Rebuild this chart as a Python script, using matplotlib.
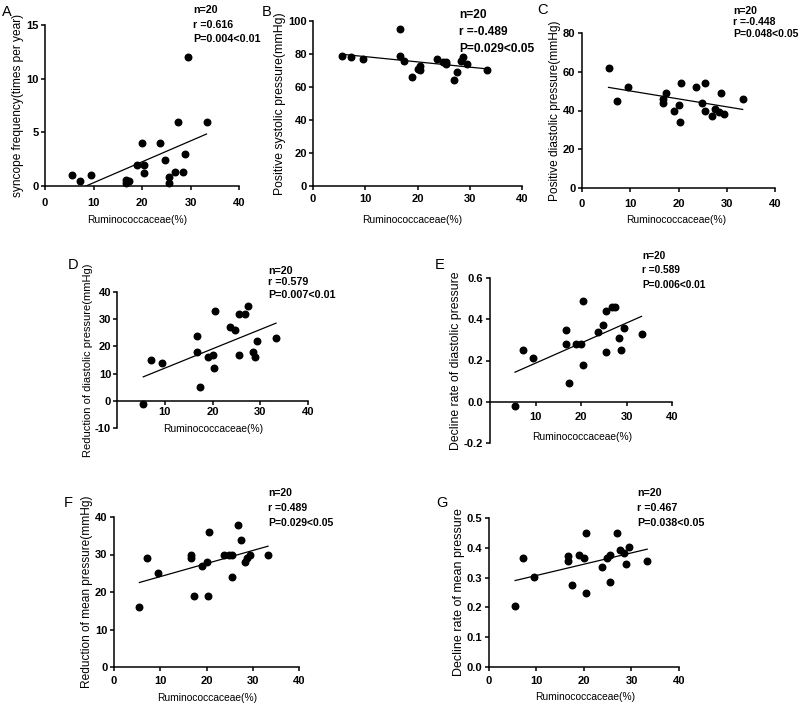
import numpy as np
import matplotlib
matplotlib.use('Agg')
import matplotlib.pyplot as plt
from matplotlib import font_manager
from matplotlib.ticker import FormatStrFormatter

W, H = 800, 706

# Ruminococcaceae abundance (%), one value per patient (same x for every panel)
rumino = [5.5, 7.2, 9.5, 16.7, 16.7, 17.4, 19.0, 20.0, 20.4, 20.5,
          23.7, 24.8, 25.5, 25.5, 26.9, 27.5, 28.4, 28.8, 29.4, 33.3]

syncope_freq = [1.0, 0.5, 1.0, 0.6, 0.3, 0.5, 2.0, 4.0, 1.2, 2.0,
                4.0, 2.4, 0.8, 0.3, 1.3, 6.0, 1.3, 3.0, 12.0, 6.0]
pos_systolic = [79, 78, 77, 95, 79, 76, 66, 71, 73, 70,
                77, 75, 75, 74, 64, 69, 76, 78, 74, 70]
pos_diastolic = [62, 45, 52, 46, 44, 49, 40, 43, 34, 54,
                 52, 44, 54, 40, 37, 41, 39, 49, 38, 46]
red_diastolic = [-1, 15, 14, 24, 18, 5, 16, 17, 12, 33,
                 27, 26, 32, 17, 32, 35, 18, 16, 22, 23]
decl_diastolic = [-0.02, 0.25, 0.21, 0.35, 0.28, 0.09, 0.28, 0.28, 0.18, 0.49,
                  0.34, 0.37, 0.44, 0.24, 0.46, 0.46, 0.31, 0.25, 0.36, 0.33]
red_mean = [16, 29, 25, 30, 29, 19, 27, 28, 19, 36,
            30, 30, 30, 24, 38, 34, 28, 29, 30, 30]
decl_mean = [0.204, 0.365, 0.303, 0.371, 0.356, 0.274, 0.375, 0.367, 0.248, 0.448,
             0.334, 0.367, 0.375, 0.285, 0.448, 0.394, 0.383, 0.346, 0.402, 0.357]

stats_A = ['n=20', 'r =0.616', 'P=0.004<0.01']
stats_B = ['n=20', 'r =-0.489', 'P=0.029<0.05']
stats_C = ['n=20', 'r =-0.448', 'P=0.048<0.05']
stats_D = ['n=20', 'r =0.579', 'P=0.007<0.01']
stats_E = ['n=20', 'r =0.589', 'P=0.006<0.01']
stats_F = ['n=20', 'r =0.489', 'P=0.029<0.05']
stats_G = ['n=20', 'r =0.467', 'P=0.038<0.05']

xlabel = 'Ruminococcaceae(%)'

plt.rcParams['font.family'] = ['Liberation Sans', 'DejaVu Sans']
plt.rcParams['axes.unicode_minus'] = False

# narrow font for horizontal labels if present
try:
    font_manager.findfont('Liberation Sans Narrow', fallback_to_default=False)
    LABEL_FONT, LABEL_SIZE = 'Liberation Sans Narrow', 9.2
except ValueError:
    LABEL_FONT, LABEL_SIZE = 'Liberation Sans', 7.4


def fxy(x, y):
    """pixel position -> figure fraction"""
    return x / W, 1 - y / H


def rect(l, t, r, b):
    return [l / W, 1 - b / H, (r - l) / W, (b - t) / H]


panels = [
    dict(letter='A', y=syncope_freq, ylabel='syncope frequency(times per year)',
         box=(45, 25, 239, 186), ylim=(0, 15), yticks=[0, 5, 10, 15], fmt='%d',
         xticks=[0, 10, 20, 30, 40], zero_axis=False, xpad=5.5, ypad=1.5,
         letter_pos=(7, 12), ylab_size=8.6, xlab_pos=(137, 220),
         stats=stats_A, stats_x=193, stats_y=[10, 25, 39], stats_size=7.7),
    dict(letter='B', y=pos_systolic, ylabel='Positive systolic pressure(mmHg)',
         box=(313, 21, 522, 186), ylim=(0, 100), yticks=[0, 20, 40, 60, 80, 100], fmt='%d',
         xticks=[0, 10, 20, 30, 40], zero_axis=False, xpad=2.5, ypad=1,
         letter_pos=(267, 12), ylab_size=8.8, xlab_pos=(412, 220),
         stats=stats_B, stats_x=459, stats_y=[15, 32, 49], stats_size=8.6),
    dict(letter='C', y=pos_diastolic, ylabel='Positive diastolic pressure(mmHg)',
         box=(582, 33, 775, 188), ylim=(0, 80), yticks=[0, 20, 40, 60, 80], fmt='%d',
         xticks=[0, 10, 20, 30, 40], zero_axis=False, xpad=4.5, ypad=1.5,
         letter_pos=(542, 10), ylab_size=8.6, xlab_pos=(676, 220),
         stats=stats_C, stats_x=733, stats_y=[11, 22, 34], stats_size=7.5),
    dict(letter='D', y=red_diastolic, ylabel='Reduction of diastolic pressure(mmHg)',
         box=(117, 292, 308, 428), ylim=(-10, 40), yticks=[-10, 0, 10, 20, 30, 40], fmt='%d',
         xticks=[10, 20, 30, 40], zero_axis=True, xpad=1.5, ypad=1,
         letter_pos=(73, 265), ylab_size=8.0, xlab_pos=(213, 429),
         stats=stats_D, stats_x=268, stats_y=[271, 282, 295], stats_size=7.7),
    dict(letter='E', y=decl_diastolic, ylabel='Decline rate of diastolic pressure',
         box=(490, 278, 672, 443), ylim=(-0.2, 0.6), yticks=[-0.2, 0.0, 0.2, 0.4, 0.6], fmt='%.1f',
         xticks=[10, 20, 30, 40], zero_axis=True, xpad=4, ypad=1.5,
         letter_pos=(440, 265), ylab_size=8.8, xlab_pos=(582, 437),
         stats=stats_E, stats_x=642, stats_y=[256, 270, 285], stats_size=7.3),
    dict(letter='F', y=red_mean, ylabel='Reduction of mean pressure(mmHg)',
         box=(114, 517, 299, 667), ylim=(0, 40), yticks=[0, 10, 20, 30, 40], fmt='%d',
         xticks=[0, 10, 20, 30, 40], zero_axis=False, xpad=3, ypad=1.5,
         letter_pos=(68, 503), ylab_size=8.6, xlab_pos=(207, 698),
         stats=stats_F, stats_x=268, stats_y=[493, 508, 523], stats_size=7.5),
    dict(letter='G', y=decl_mean, ylabel='Decline rate of mean pressure',
         box=(489, 518, 679, 667), ylim=(0, 0.5), yticks=[0.0, 0.1, 0.2, 0.3, 0.4, 0.5], fmt='%.1f',
         xticks=[0, 10, 20, 30, 40], zero_axis=False, xpad=3, ypad=1.5,
         letter_pos=(442, 503), ylab_size=9.0, xlab_pos=(585, 697),
         stats=stats_G, stats_x=637, stats_y=[493, 508, 523], stats_size=7.7),
]

fig = plt.figure(figsize=(W / 100, H / 100), dpi=100)

x = np.array(rumino)
for p in panels:
    ax = fig.add_axes(rect(*p['box']))
    y = np.array(p['y'], dtype=float)

    # linear fit, drawn over the observed x range
    slope, icpt = np.polyfit(x, y, 1)
    xs = np.array([x.min(), x.max()])
    ax.plot(xs, slope * xs + icpt, color='black', lw=0.9, zorder=2)
    ax.plot(x, y, 'o', color='black', ms=4.7, clip_on=False, zorder=4)

    ax.set_xlim(0, 40)
    ax.set_ylim(*p['ylim'])
    ax.set_xticks(p['xticks'])
    ax.set_yticks(p['yticks'])
    ax.yaxis.set_major_formatter(FormatStrFormatter(p['fmt']))

    for side in ['top', 'right']:
        ax.spines[side].set_visible(False)
    for side in ['left', 'bottom']:
        ax.spines[side].set_linewidth(1.1)
    if p['zero_axis']:
        ax.spines['bottom'].set_position(('data', 0))

    ax.tick_params(axis='both', direction='out', length=3.2, width=1.1)
    ax.tick_params(axis='x', pad=p['xpad'])
    ax.tick_params(axis='y', pad=p['ypad'])
    for lbl in ax.get_xticklabels() + ax.get_yticklabels():
        lbl.set_fontweight('bold')
        lbl.set_fontsize(8)

    ax.set_ylabel(p['ylabel'], fontsize=p['ylab_size'], labelpad=1.5)

    fig.text(*fxy(*p['letter_pos']), p['letter'], fontsize=10.5,
             ha='center', va='center')
    fig.text(*fxy(*p['xlab_pos']), xlabel, family=LABEL_FONT, fontsize=LABEL_SIZE,
             ha='center', va='center')
    for s, sy in zip(p['stats'], p['stats_y']):
        fig.text(*fxy(p['stats_x'], sy), s, fontsize=p['stats_size'],
                 fontweight='bold', ha='left', va='center')

fig.savefig('out.png', dpi=100)
